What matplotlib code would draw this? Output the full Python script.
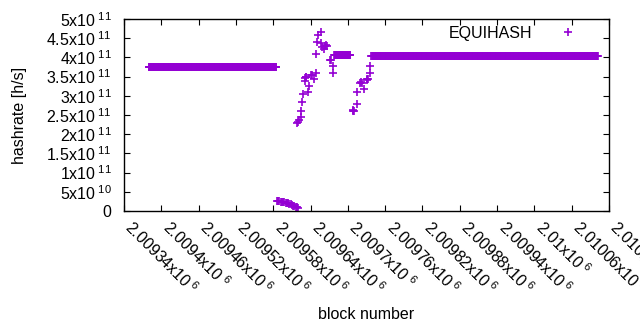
import numpy as np
import matplotlib
matplotlib.use("Agg")
import matplotlib.pyplot as plt
from matplotlib.ticker import MultipleLocator, FuncFormatter
from matplotlib.transforms import ScaledTranslation

plt.rcParams['font.family'] = ['Liberation Sans', 'DejaVu Sans']
plt.rcParams['mathtext.fontset'] = 'custom'
plt.rcParams['mathtext.rm'] = 'Liberation Sans'
plt.rcParams['mathtext.it'] = 'Liberation Sans'
plt.rcParams['mathtext.default'] = 'regular'

# ---- data ----
series_name = "EQUIHASH"

# flat segments: (first block, last block, hashrate)
flat_segments = [
    (2009380, 2009585, 3.74e11),
    (2009678, 2009704, 4.05e11),
    (2009738, 2010102, 4.03e11),
]

# low segment after the first plateau
low_blocks = [2009586, 2009588, 2009590, 2009592, 2009594, 2009596, 2009598,
              2009600, 2009602, 2009604, 2009606, 2009608, 2009610, 2009612,
              2009614, 2009616, 2009618, 2009620]
low_values = [2.5e10, 2.5e10, 2.5e10, 2.45e10, 2.4e10, 2.4e10, 2.3e10,
              2.2e10, 2.1e10, 2.0e10, 1.9e10, 1.7e10, 1.6e10, 1.4e10,
              1.3e10, 1.1e10, 1.0e10, 0.9e10]

# scattered points
scatter_blocks = [2009619, 2009620, 2009622, 2009624, 2009625, 2009627, 2009628,
                  2009636, 2009638, 2009631, 2009631, 2009632, 2009633,
                  2009641, 2009642, 2009646, 2009649, 2009649, 2009652, 2009657,
                  2009651, 2009659, 2009662, 2009664, 2009665, 2009666, 2009657,
                  2009672, 2009673, 2009676, 2009676,
                  2009708, 2009709, 2009710, 2009714, 2009715, 2009726,
                  2009720, 2009721, 2009722, 2009730, 2009731, 2009732,
                  2009736, 2009736]
scatter_values = [2.30e11, 2.33e11, 2.36e11, 2.46e11, 2.61e11, 2.85e11, 3.05e11,
                  3.10e11, 3.25e11, 3.39e11, 3.47e11, 3.49e11, 3.48e11,
                  3.53e11, 3.55e11, 3.43e11, 3.60e11, 4.08e11, 4.59e11, 4.67e11,
                  4.39e11, 4.26e11, 4.21e11, 4.29e11, 4.31e11, 4.30e11, 4.37e11,
                  3.92e11, 3.94e11, 3.78e11, 3.59e11,
                  2.60e11, 2.62e11, 2.61e11, 2.78e11, 3.09e11, 3.17e11,
                  3.33e11, 3.35e11, 3.34e11, 3.42e11, 3.44e11, 3.43e11,
                  3.60e11, 3.78e11]

x_min, x_max, x_step = 2009340, 2010120, 60
y_min, y_max, y_step = 0, 5e11, 5e10

# ---- assemble ----
blocks = []
values = []
for b0, b1, v in flat_segments:
    for b in range(b0, b1 + 1):
        blocks.append(b)
        values.append(v)
blocks += low_blocks + scatter_blocks
values += low_values + scatter_values

color = '#9400D3'
FS = 11.5

def sci(v, pos=None):
    if v == 0:
        return "0"
    e = int(np.floor(np.log10(abs(v)) + 1e-9))
    m = v / 10 ** e
    return "%gx10$^{\\ %d}$" % (float('%.6g' % m), e)

fig = plt.figure(figsize=(6.4, 3.3), dpi=100)
ax = fig.add_axes([124/640, 1 - 211/330, (609-124)/640, (211-19)/330])

ax.plot(blocks, values, linestyle='none', marker='+', markersize=5.5,
        markeredgewidth=1.2, color=color, label=series_name)

ax.set_xlim(x_min, x_max)
ax.set_ylim(y_min, y_max)
ax.xaxis.set_major_locator(MultipleLocator(x_step))
ax.yaxis.set_major_locator(MultipleLocator(y_step))
ax.xaxis.set_major_formatter(FuncFormatter(sci))
ax.yaxis.set_major_formatter(FuncFormatter(sci))

ax.tick_params(axis='both', which='major', direction='in', length=4.5,
               width=0.8, top=True, right=True, labelsize=FS, colors='black')
ax.tick_params(axis='y', pad=9)
ax.tick_params(axis='x', pad=5)
shift = ScaledTranslation(11/100, 0, fig.dpi_scale_trans)
for lab in ax.get_xticklabels():
    lab.set_rotation(-45)
    lab.set_ha('left')
    lab.set_va('top')
    lab.set_rotation_mode('anchor')
    lab.set_transform(lab.get_transform() + shift)

for s in ax.spines.values():
    s.set_linewidth(1.0)
    s.set_color('black')

ax.set_xlabel("block number", fontsize=FS)
ax.set_ylabel("hashrate [h/s]", fontsize=FS)
ax.xaxis.set_label_coords(0.5, -0.50)
ax.yaxis.set_label_coords(-0.2, 0.5)

leg = ax.legend(loc='upper right', bbox_to_anchor=(0.948, 0.965), markerfirst=False,
                frameon=False, fontsize=FS, handletextpad=1.2, handlelength=2.0,
                borderpad=0, borderaxespad=0)

fig.savefig("out.png", dpi=100)
